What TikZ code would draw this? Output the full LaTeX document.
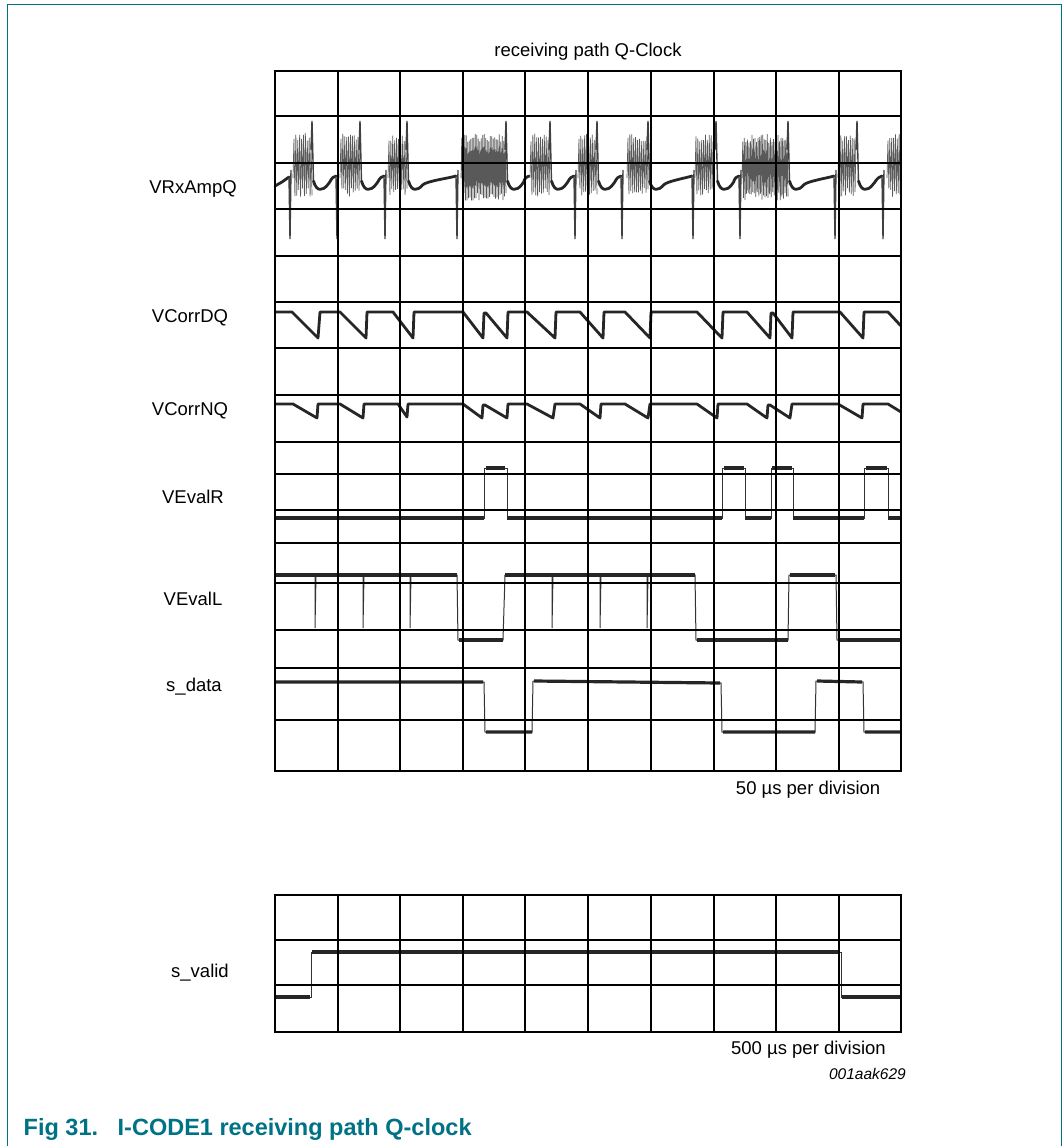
\documentclass[tikz,border=0pt]{standalone}
\usepackage{fontspec}
\setmainfont{Liberation Sans}
\definecolor{nxpteal}{RGB}{0,114,134}
\newcommand\rxburst[5]{%
  \draw[burst] (#1,178) \foreach \k in {1,...,#3} { -- ({#1+(#2-#1)*\k/#3},{ifthenelse(isodd(\k),#4+9*rnd,#5-9*rnd)}) };
}
\newcommand\rxpos[1]{\draw[spike] ({#1-1},150) -- (#1,121) -- ({#1+1.5},182);}
\newcommand\rxneg[1]{\draw[spike] ({#1-1},176) -- (#1,239) -- ({#1+1},170);}
\newcommand\rxgap[2]{\draw[trace] (#1,181) .. controls ({#1+3},192) and ({#1+9},191) .. ({#1+14},185) .. controls ({#1+18},181) and ({#2-6},178) .. (#2,176);}
\begin{document}
\begin{tikzpicture}[x=1pt,y=-1pt,
  gridline/.style={line width=1.1pt, black},
  gridframe/.style={line width=1.8pt, black},
  level/.style={line width=3.2pt, black!85, line cap=butt},
  edge/.style={line width=1pt, black!80},
  trace/.style={line width=2.8pt, black!85, line join=round, line cap=round},
  ramp/.style={line width=2.8pt, black!85, line join=round},
  burst/.style={line width=0.7pt, black!65},
  spike/.style={line width=1.4pt, black!75},
  lbl/.style={inner sep=0pt, font=\fontsize{18.5}{22}\selectfont, text height=13.2pt, text depth=0pt},
  capt/.style={inner sep=0pt, anchor=west, text=nxpteal, font=\fontsize{23.5}{28}\selectfont\bfseries, text height=16.8pt, text depth=0pt},
]
\useasboundingbox (0,0) rectangle (1063,1146);
\pgfmathsetseed{17}

% outer frame
\draw[nxpteal, line width=1.6pt] (7.3,1146) -- (7.3,4.3) -- (1061.3,4.3) -- (1061.3,1146);

% ---------- VRxAmpQ ----------
\draw[trace] (275,186) -- (282,182) -- (289,177);
\rxneg{290}\rxburst{293}{312}{20}{133}{197}\rxpos{312}
\rxgap{313.5}{336}
\rxneg{337}\rxburst{340}{360}{21}{133}{197}\rxpos{360}
\rxgap{361.5}{384}
\rxneg{385}\rxburst{388}{407}{20}{133}{197}\rxpos{407}
\rxgap{408.5}{456}
\rxneg{457}\rxburst{461}{506}{60}{134}{201}\rxpos{506}
\rxgap{507.5}{529}
\rxburst{530}{550}{21}{133}{197}\rxpos{550}
\rxgap{551.5}{574}
\rxneg{575}\rxburst{578}{597}{20}{133}{197}\rxpos{597}
\rxgap{598.5}{621}
\rxneg{622}\rxburst{627}{648}{22}{133}{197}\rxpos{648}
\rxgap{649.5}{692}
\rxneg{693}\rxburst{695}{714}{20}{133}{197}\rxpos{716}
\rxgap{717.5}{739}
\rxneg{740}\rxburst{742}{788}{60}{134}{201}\rxpos{788}
\rxgap{789.5}{834}
\rxneg{835}\rxburst{838}{856}{19}{133}{197}\rxpos{857}
\rxgap{858.5}{882}
\rxneg{883}\rxburst{887}{901}{15}{133}{197}

% ---------- VCorrDQ ----------
\draw[ramp] (275,312) -- (292,312) -- (318,338) -- (320,312) -- (340,312) -- (366,338) -- (367,312)
  -- (393,312) -- (413,338) -- (414,312) -- (463,312) -- (483,338) -- (484,313) -- (486,313) -- (507,338)
  -- (508,312) -- (527,312) -- (555,338) -- (556,312) -- (580,312) -- (603,338) -- (604,312) -- (625,312)
  -- (650,338) -- (651,312) -- (697,312) -- (722,338) -- (723,312) -- (747,312) -- (770,338) -- (771,313)
  -- (773,313) -- (792,338) -- (793,312) -- (840,312) -- (863,338) -- (864,312) -- (888,312) -- (901,326);

% ---------- VCorrNQ ----------
\draw[ramp] (275,404) -- (293,404) -- (317,418) -- (318,404) -- (340,404) -- (363,418) -- (364,404)
  -- (398,404) -- (407,417) -- (408,404) -- (463,404) -- (482,418) -- (483,405) -- (485,405) -- (507,418)
  -- (508,404) -- (527,404) -- (553,418) -- (555,404) -- (580,404) -- (600,418) -- (601,404) -- (625,404)
  -- (648,418) -- (650,404) -- (697,404) -- (717,418) -- (718,404) -- (747,404) -- (767,418) -- (768,405)
  -- (770,405) -- (790,418) -- (792,404) -- (838,404) -- (862,418) -- (863,404) -- (888,404) -- (901,412);

% ---------- VEvalR ----------
\draw[edge] (275,518) -- (484,518) -- (484,468) -- (507,468) -- (507,518) -- (722,518) -- (722,468)
  -- (745,468) -- (745,518) -- (771,518) -- (771,468) -- (793,468) -- (793,518) -- (864,518)
  -- (864,468) -- (888,468) -- (888,518) -- (901,518);
\draw[level] (275,518) -- (484,518) (486,468) -- (505,468) (507,518) -- (722,518) (724,468) -- (744,468)
  (745,518) -- (771,518) (772,468) -- (792,468) (793,518) -- (864,518) (866,468) -- (887,468) (888,518) -- (901,518);

% ---------- VEvalL ----------
\draw[edge] (275,575) -- (315,575) -- (315,628) -- (316,575) -- (363,575) -- (363,628) -- (364,575)
  -- (410,575) -- (410,628) -- (411,575) -- (457,575) -- (458,640) -- (503,640) -- (505,575) -- (552,575)
  -- (552,628) -- (553,575) -- (600,575) -- (600,628) -- (601,575) -- (647,575) -- (647,628) -- (648,575)
  -- (695,575) -- (696,640) -- (788,640) -- (789,575) -- (836,575) -- (837,640) -- (901,640);
\draw[level] (275,575) -- (457,575) (459,640) -- (503,640) (505,575) -- (695,575) (697,640) -- (788,640)
  (790,575) -- (835,575) (838,640) -- (901,640);

% ---------- s_data ----------
\draw[edge] (275,682) -- (484,682) -- (485,732) -- (532,732) -- (533,681) -- (721,683) -- (722,732)
  -- (815,732) -- (816,681) -- (863,682) -- (864,732) -- (901,732);
\draw[level] (275,682) -- (483,682) (486,732) -- (532,732) (534,681) -- (720,683) (723,732) -- (815,732)
  (817,681) -- (862,682) (865,732) -- (901,732);

% ---------- upper grid ----------
\foreach \xx in {338,400,463,525,588,651,714,776,839} \draw[gridline] (\xx,71) -- (\xx,771);
\foreach \yy in {116,163,209,256,302,348,395,442,474,510,543,583,630,668,720}
  \draw[gridline] (275,\yy) -- (901,\yy);
\draw[gridframe] (275,71) rectangle (901,771);

% ---------- s_valid ----------
\draw[edge] (275,997) -- (311,997) -- (311,952) -- (841,952) -- (841,997) -- (901,997);
\draw[level] (275,997) -- (310,997) (312,952) -- (840,952) (842,997) -- (901,997);

% ---------- lower grid ----------
\foreach \xx in {338,400,463,525,588,651,714,776,839} \draw[gridline] (\xx,895) -- (\xx,1032);
\foreach \yy in {940,985} \draw[gridline] (275,\yy) -- (901,\yy);
\draw[gridframe] (275,895) rectangle (901,1032);

% ---------- texts ----------
\node[lbl] (title) at (588,50) {receiving path Q-Clock};
\node[lbl] (lrx) at (193,187) {VRxAmpQ};
\node[lbl] (ldq) at (190,316) {VCorrDQ};
\node[lbl] (lnq) at (190,409) {VCorrNQ};
\node[lbl] (lr) at (193,497) {VEvalR};
\node[lbl] (ll) at (193,599) {VEvalL};
\node[lbl] (ld) at (194,685) {s\_data};
\node[lbl] (lv) at (200,971) {s\_valid};
\node[lbl, anchor=east] (div1) at (880.5,788) {50 µs per division};
\node[lbl, anchor=east] (div2) at (886,1048) {500 µs per division};
\node[inner sep=0pt, anchor=east, font=\fontsize{15.5}{18}\selectfont\itshape, text height=11.1pt, text depth=0pt] (code) at (906,1073.5) {001aak629};
\node[capt] (fig) at (23.5,1127) {Fig 31.};
\node[capt] (figt) at (117.5,1127) {I-CODE1 receiving path Q-clock};
\end{tikzpicture}
\end{document}
